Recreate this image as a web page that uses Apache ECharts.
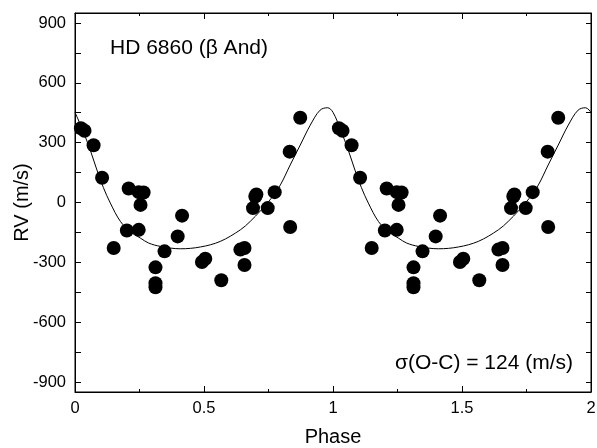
<!DOCTYPE html>
<html>
<head>
<meta charset="utf-8">
<script src="https://cdn.jsdelivr.net/npm/echarts@6/dist/echarts.min.js"></script>
<style>html,body{margin:0;padding:0;background:#fff}#c{width:597px;height:448px}</style>
</head>
<body>
<div id="c"></div>
<script>
// Observed RV points (one phase cycle, 0..1); plot repeats them at phase+1
var obsPhase = [0.023, 0.037, 0.072, 0.105, 0.150, 0.201, 0.208, 0.247, 0.247, 0.254, 0.266,
  0.312, 0.312, 0.312, 0.347, 0.398, 0.415, 0.492, 0.505, 0.567, 0.641, 0.657, 0.657,
  0.690, 0.699, 0.703, 0.747, 0.774, 0.832, 0.834, 0.873];
var obsRV = [372, 360, 287, 124, -228, -140, 70, -137, 52, -12, 50,
  -325, -405, -425, -245, -170, -66, -298, -282, -390, -236, -228, -313,
  -28, 30, 40, -28, 52, 255, -123, 425];

// Fitted orbit curve (one cycle)
var fitPhase = [0.0, 0.03, 0.059, 0.085, 0.11, 0.137, 0.176, 0.214, 0.253, 0.285, 0.331, 0.408,
  0.486, 0.563, 0.641, 0.679, 0.72, 0.76, 0.796, 0.834, 0.873, 0.912, 0.95, 0.979, 1.0];
var fitRV = [452, 362, 263, 163, 75, -3, -95, -145, -178, -203, -220, -232,
  -223, -195, -137, -95, -40, 20, 88, 188, 288, 388, 463, 475, 452];

var xTicks = [0, 0.5, 1, 1.5, 2];
var yTicks = [-900, -600, -300, 0, 300, 600, 900];
var yTickMarks = [-900, -750, -600, -450, -300, -150, 0, 150, 300, 450, 600, 750, 900];

var scatterData = [];
[0, 1].forEach(function (k) {
  obsPhase.forEach(function (p, i) { scatterData.push([p + k, obsRV[i]]); });
});
var lineData = [];
[0, 1].forEach(function (k) {
  fitPhase.forEach(function (p, i) {
    if (k === 1 && i === 0) return;
    lineData.push([p + k, fitRV[i]]);
  });
});

var font = 'Liberation Sans, Arial, sans-serif';
var chart = echarts.init(document.getElementById('c'));
var blackLine = { show: true, onZero: false, lineStyle: { color: '#000', width: 1 } };
chart.setOption({
  animation: false,
  grid: { left: 75, right: 6, top: 13, bottom: 56, containLabel: false, outerBoundsMode: 'none',
    show: true, borderColor: '#000', borderWidth: 1, backgroundColor: 'transparent' },
  xAxis: [
    {
      type: 'value', gridIndex: 0, min: 0, max: 2, interval: 0.5, position: 'bottom',
      name: 'Phase', nameLocation: 'middle', nameGap: 35, nameMoveOverlap: false,
      nameTextStyle: { fontFamily: font, fontSize: 20, color: '#000' },
      axisLabel: { fontFamily: font, fontSize: 16.5, color: '#000', margin: 8,
        formatter: function (v) { return xTicks.indexOf(v) >= 0 ? String(v) : ''; } },
      axisLine: blackLine,
      axisTick: { show: true, inside: true, length: 6, lineStyle: { color: '#000' } },
      minorTick: { show: true, splitNumber: 2, length: 3, lineStyle: { color: '#000' } },
      splitLine: { show: false }
    },
    {
      type: 'value', gridIndex: 0, min: 0, max: 2, interval: 0.5, position: 'top',
      axisLabel: { show: false },
      axisLine: blackLine,
      axisTick: { show: true, inside: true, length: 6, lineStyle: { color: '#000' } },
      minorTick: { show: true, splitNumber: 2, length: 3, lineStyle: { color: '#000' } },
      splitLine: { show: false }
    }
  ],
  yAxis: [
    {
      type: 'value', gridIndex: 0, min: -950, max: 950, position: 'left',
      name: 'RV (m/s)', nameLocation: 'middle', nameGap: 43, nameMoveOverlap: false,
      nameTextStyle: { fontFamily: font, fontSize: 20, color: '#000' },
      axisLabel: { fontFamily: font, fontSize: 16.5, color: '#000', margin: 9, customValues: yTicks },
      axisTick: { show: true, inside: true, length: 6, lineStyle: { color: '#000' }, customValues: yTickMarks },
      axisLine: blackLine,
      minorTick: { show: false },
      splitLine: { show: false }
    },
    {
      type: 'value', gridIndex: 0, min: -950, max: 950, position: 'right',
      axisLabel: { show: false },
      axisTick: { show: true, inside: true, length: 5, lineStyle: { color: '#000' }, customValues: yTickMarks },
      axisLine: blackLine,
      minorTick: { show: false },
      splitLine: { show: false }
    }
  ],
  series: [
    {
      type: 'line', data: lineData, smooth: 0.35, showSymbol: false,
      lineStyle: { color: '#000', width: 1 }, z: 2
    },
    {
      type: 'scatter', data: scatterData, symbol: 'circle', symbolSize: 14,
      itemStyle: { color: '#000', opacity: 1 }, z: 3
    }
  ],
  graphic: [
    { type: 'text', left: 110, top: 38, style: { text: 'HD 6860 (β And)', fontFamily: font, fontSize: 21, fill: '#000' } },
    { type: 'text', right: 24, top: 353, style: { text: 'σ(O-C) = 124 (m/s)', fontFamily: font, fontSize: 21, fill: '#000' } }
  ]
});
</script>
</body>
</html>
